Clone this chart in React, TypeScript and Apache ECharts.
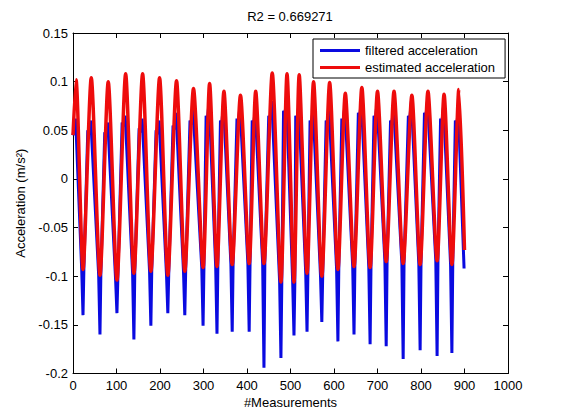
import { useEffect, useRef } from "react";
import * as echarts from "echarts";

// Sample indices (x) and values
const peakX = [7, 42, 81, 121, 160, 199, 238, 277, 314, 347, 385, 420, 458, 492, 520, 553, 590, 626, 664, 700, 738, 779, 816, 853, 887];
const troughX = [23, 62, 101, 140, 179, 218, 257, 299, 331, 366, 405, 439, 478, 508, 538, 572, 609, 646, 683, 720, 759, 798, 837, 871];

const redPeak = [0.102, 0.104, 0.1, 0.108, 0.108, 0.104, 0.101, 0.093, 0.098, 0.09, 0.086, 0.09, 0.109, 0.108, 0.107, 0.1, 0.099, 0.088, 0.094, 0.09, 0.09, 0.086, 0.09, 0.087, 0.092];
const redTrough = [-0.093, -0.099, -0.104, -0.097, -0.095, -0.099, -0.095, -0.091, -0.09, -0.088, -0.087, -0.087, -0.106, -0.106, -0.097, -0.1, -0.093, -0.09, -0.091, -0.085, -0.087, -0.088, -0.084, -0.088];

const bluePeak = [0.062, 0.06, 0.058, 0.065, 0.062, 0.06, 0.068, 0.072, 0.08, 0.078, 0.075, 0.07, 0.08, 0.082, 0.075, 0.072, 0.07, 0.075, 0.08, 0.078, 0.075, 0.08, 0.08, 0.075, 0.07];
const blueShoulder = [0.05, 0.05, 0.048, 0.058, 0.052, 0.05, 0.055, 0.06, 0.065, 0.06, 0.062, 0.06, 0.065, 0.07, 0.065, 0.06, 0.06, 0.062, 0.068, 0.065, 0.06, 0.065, 0.068, 0.062, 0.06];
const blueTrough = [-0.14, -0.16, -0.138, -0.165, -0.151, -0.138, -0.14, -0.151, -0.159, -0.157, -0.157, -0.194, -0.184, -0.161, -0.157, -0.147, -0.167, -0.16, -0.17, -0.172, -0.185, -0.176, -0.182, -0.179];

const redStart: [number, number] = [0, 0.045];
const redEnd: [number, number] = [900, -0.073];
const blueStart: [number, number] = [0, 0.045];
const blueEnd: [number, number] = [899, -0.092];

const xTickStep = 100;
const yTickStep = 0.05;

function buildRed(): [number, number][] {
  const pts: [number, number][] = [redStart];
  for (let i = 0; i < peakX.length; i++) {
    pts.push([peakX[i], redPeak[i]]);
    if (i < troughX.length) pts.push([troughX[i], redTrough[i]]);
  }
  pts.push(redEnd);
  return pts;
}

function buildBlue(): [number, number][] {
  const pts: [number, number][] = [blueStart];
  pts.push([peakX[0] - 1, bluePeak[0]]);
  for (let i = 0; i < troughX.length; i++) {
    const t = troughX[i];
    pts.push([t - 3, redTrough[i]]);
    pts.push([t, blueTrough[i]]);
    pts.push([t + 2, redTrough[i]]);
    const p = peakX[i + 1];
    pts.push([p - 8, blueShoulder[i + 1]]);
    pts.push([p - 5, blueShoulder[i + 1] - 0.004]);
    pts.push([p - 1, bluePeak[i + 1]]);
  }
  pts.push(blueEnd);
  return pts;
}

const FONT = "'Liberation Sans', Arial, Helvetica, sans-serif";

export default function App() {
  const ref = useRef<HTMLDivElement>(null);
  useEffect(() => {
    if (!ref.current) return;
    const chart = echarts.init(ref.current, undefined, { renderer: "svg" });
    const axisCommon = {
      axisLine: { show: true, onZero: false, lineStyle: { color: "#000", width: 1 } },
      axisTick: { show: true, inside: true, length: 5, lineStyle: { color: "#000" } },
      splitLine: { show: false },
    };
    chart.setOption({
      animation: false,
      backgroundColor: "#fff",
      textStyle: { fontFamily: FONT },
      title: {
        text: "R2 = 0.669271",
        left: 290,
        top: 10,
        padding: 0,
        textAlign: "center",
        textStyle: { fontSize: 13, fontWeight: "normal", color: "#000", fontFamily: FONT },
      },
      legend: {
        orient: "vertical",
        left: 313,
        top: 39,
        icon: "rect",
        itemWidth: 40,
        itemHeight: 3,
        itemGap: 4,
        padding: [5, 10, 4, 7],
        backgroundColor: "#fff",
        borderColor: "#000",
        borderWidth: 1,
        borderRadius: 0,
        textStyle: { fontSize: 13, color: "#000", fontFamily: FONT },
        data: ["filtered acceleration", "estimated acceleration"],
      },
      grid: { left: 73, right: 53, top: 33, bottom: 46.5, containLabel: false },
      xAxis: [
        {
          type: "value",
          min: 0,
          max: 1000,
          interval: xTickStep,
          position: "bottom",
          name: "#Measurements",
          nameLocation: "middle",
          nameGap: 22,
          nameTextStyle: { fontSize: 13, color: "#000", fontFamily: FONT },
          axisLabel: { fontSize: 13, color: "#000", margin: 5, fontFamily: FONT, formatter: (v: number) => String(v) },
          ...axisCommon,
        },
        {
          type: "value",
          min: 0,
          max: 1000,
          interval: xTickStep,
          position: "top",
          axisLabel: { show: false },
          ...axisCommon,
        },
      ],
      yAxis: [
        {
          type: "value",
          min: -0.2,
          max: 0.15,
          interval: yTickStep,
          position: "left",
          name: "Acceleration (m/s²)",
          nameLocation: "middle",
          nameGap: 41,
          nameTextStyle: { fontSize: 13, color: "#000", fontFamily: FONT },
          axisLabel: { fontSize: 13, color: "#000", margin: 5, fontFamily: FONT },
          ...axisCommon,
        },
        {
          type: "value",
          min: -0.2,
          max: 0.15,
          interval: yTickStep,
          position: "right",
          axisLabel: { show: false },
          ...axisCommon,
        },
      ],
      series: [
        {
          name: "filtered acceleration",
          type: "line",
          xAxisIndex: 0,
          yAxisIndex: 0,
          symbol: "none",
          smooth: false,
          data: buildBlue(),
          itemStyle: { color: "#0a0ae0" },
          lineStyle: { color: "#0a0ae0", width: 3 },
        },
        {
          name: "estimated acceleration",
          type: "line",
          xAxisIndex: 0,
          yAxisIndex: 0,
          symbol: "none",
          smooth: 0.25,
          data: buildRed(),
          itemStyle: { color: "#ee0c0c" },
          lineStyle: { color: "#ee0c0c", width: 3.5 },
        },
      ],
    });
    return () => chart.dispose();
  }, []);
  return (
    <div
      ref={ref}
      style={{ position: "fixed", left: 0, top: 0, width: 561, height: 420, background: "#fff" }}
    />
  );
}
